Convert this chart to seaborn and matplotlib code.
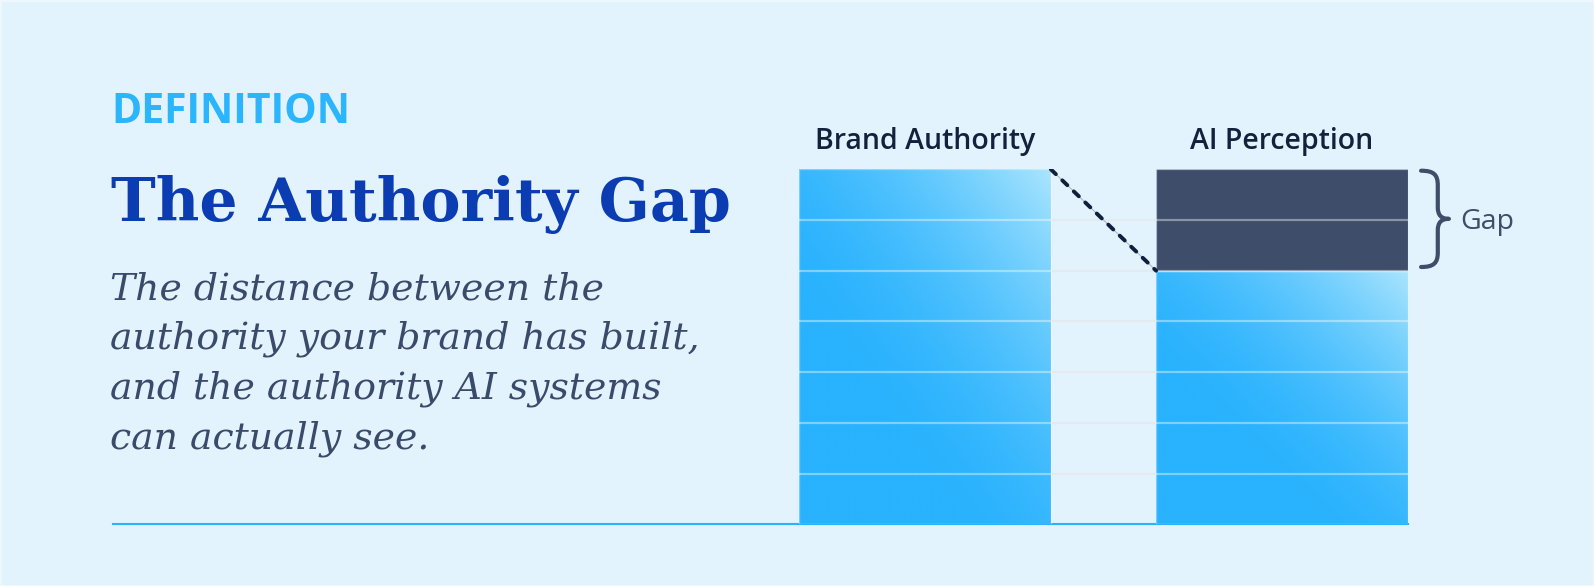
import numpy as np
import pandas as pd
import seaborn as sns
import matplotlib.pyplot as plt
from matplotlib.colors import LinearSegmentedColormap
from matplotlib.path import Path
from matplotlib.patches import PathPatch

# data
categories = ["Brand Authority", "AI Perception"]
values = [7, 5]
gap = values[0] - values[1]
levels = [1, 2, 3, 4, 5, 6]
kicker = "DEFINITION"
title = "The Authority Gap"
subtitle_lines = [
    "The distance between the",
    "authority your brand has built,",
    "and the authority AI systems",
    "can actually see.",
]

BG = "#e2f3fd"
BLUE = "#29b2fd"
LIGHT = "#aae5fe"
DARK = "#3d4d6a"
NAVY = "#14213d"
BAR_W = 0.705

sns.set_theme(style="white")
plt.rcParams["font.family"] = ["Open Sans", "DejaVu Sans"]

W, H = 1594, 586
fig = plt.figure(figsize=(W / 100, H / 100), dpi=100)
fig.patch.set_facecolor(BG)
fig.patch.set_edgecolor("#eef7fe")
fig.patch.set_linewidth(0.8)

ax = fig.add_axes([113.3 / W, 1 - 524.2 / H, 1294.4 / W, 354.9 / H])
ax.set_facecolor("none")

df = pd.DataFrame({"source": categories, "score": values})
sns.barplot(data=df, x="source", y="score", color=BLUE, saturation=1,
            width=BAR_W, ax=ax, zorder=1)

# gradient fill, light towards top right
cmap = LinearSegmentedColormap.from_list("g", [BLUE, LIGHT])
u, v = np.meshgrid(np.linspace(0, 1, 300), np.linspace(0, 1, 300))
grad = np.clip(((u + v) / 2 - 0.3) / 0.7, 0, 1) ** 1.8
for p in list(ax.patches):
    b = p.get_bbox()
    im = ax.imshow(grad, cmap=cmap, vmin=0, vmax=1, origin="lower", aspect="auto",
                   extent=[b.x0, b.x1, b.y0, b.y1], zorder=1.5)
    im.set_clip_path(p)
    p.set_facecolor("none")
    p.set_edgecolor((1, 1, 1, 0.35))
    p.set_linewidth(1)
    p.set_zorder(3)

# the gap on top of AI perception
ax.bar(1, gap, bottom=values[1], width=BAR_W, color=DARK,
       edgecolor=(1, 1, 1, 0.3), linewidth=1, zorder=2)

# grid lines
ax.hlines(levels, -BAR_W / 2, 1 + BAR_W / 2, color="#e4ebf0", lw=1.6, zorder=0.5)
for i in range(len(categories)):
    ax.hlines(levels, i - BAR_W / 2, i + BAR_W / 2, color="white", alpha=0.4,
              lw=1.6, zorder=2.5)

# dashed connector
cx = [BAR_W / 2, 1 - BAR_W / 2]
cy = [values[0], values[1]]
ax.plot(cx, cy, color="#a9b3c0", lw=0.7, zorder=3.5)
ax.plot(cx, cy, color="#0f1f3d", lw=2.8, dashes=(1.8, 2.3),
        dash_capstyle="round", zorder=4)

# brace
x0, bw = 1.390, 0.078
yt, yb = 6.972, 5.073
pts = [(0, 0), (0.45, 0), (0.6, 0.04), (0.6, 0.15), (0.6, 0.38),
       (0.6, 0.46), (0.72, 0.5), (1.0, 0.5),
       (0.72, 0.5), (0.6, 0.54), (0.6, 0.62), (0.6, 0.85),
       (0.6, 0.96), (0.45, 1.0), (0, 1.0)]
codes = [Path.MOVETO, Path.CURVE4, Path.CURVE4, Path.CURVE4, Path.LINETO,
         Path.CURVE4, Path.CURVE4, Path.CURVE4,
         Path.CURVE4, Path.CURVE4, Path.CURVE4, Path.LINETO,
         Path.CURVE4, Path.CURVE4, Path.CURVE4]
verts = [(x0 + a * bw, yt - b * (yt - yb)) for a, b in pts]
ax.add_patch(PathPatch(Path(verts, codes), fill=False, edgecolor=DARK, lw=3.0,
                       capstyle="round", joinstyle="round", clip_on=False, zorder=4))
ax.text(1.500, 5.822, "Gap", fontsize=20.5, color=DARK, va="baseline",
        ha="left", clip_on=False)

for i, c in enumerate(categories):
    ax.text(i, 7.41, c, ha="center", va="baseline", fontsize=20.5,
            weight="semibold", color=NAVY, clip_on=False)

ax.set_xlim(-2.2746, 1 + BAR_W / 2)
ax.set_ylim(0, 7)
ax.set_xticks([])
ax.set_yticks([])
ax.set_xlabel("")
ax.set_ylabel("")
for s in ["top", "left", "right"]:
    ax.spines[s].set_visible(False)
ax.spines["bottom"].set_color(BLUE)
ax.spines["bottom"].set_linewidth(1.5)

# left text block
fig.text(111 / W, 1 - 123.3 / H, kicker, fontsize=29.5, weight="bold",
         color="#2bb5fd", va="baseline", ha="left")
t_title = fig.text(111 / W, 1 - 221 / H, title, fontsize=50, weight="bold",
                   family="DejaVu Serif", color="#0b3cb1", va="baseline", ha="left")
sub = []
for k, line in enumerate(subtitle_lines):
    sub.append(fig.text(110 / W, 1 - (299.3 + 49.6 * k) / H, line, fontsize=26,
                        style="italic", family="DejaVu Serif", color="#3a4a6b",
                        va="baseline", ha="left"))

fig.canvas.draw()
r = fig.canvas.get_renderer()
w = t_title.get_window_extent(r).width
t_title.set_fontsize(50 * 620 / w)
w = max(t.get_window_extent(r).width for t in sub)
for t in sub:
    t.set_fontsize(26 * 590 / w)

fig.savefig("out.png", dpi=100, facecolor=fig.get_facecolor())
